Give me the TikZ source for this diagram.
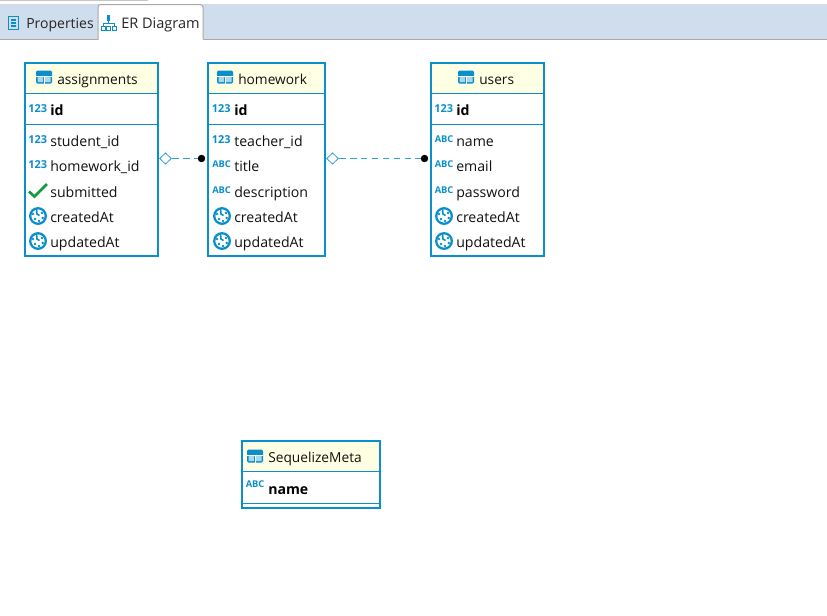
\documentclass[tikz,border=0pt]{standalone}
\usepackage{fontspec}
\setmainfont{Open Sans}
\usetikzlibrary{shapes.geometric,calc}
\definecolor{erblue}{HTML}{0A8FCB}
\definecolor{hdr}{HTML}{FFFFE3}
\definecolor{tabbar}{HTML}{CFDDEC}
\definecolor{tabline}{HTML}{A9A9A9}
\definecolor{linkblue}{HTML}{2FA3D4}
\definecolor{checkgreen}{HTML}{129B3C}
\definecolor{txt}{HTML}{111111}
\tikzset{
  x=0.75pt,y=-0.75pt,
  table/.style={draw=erblue,line width=1.6pt,anchor=north west,inner sep=0pt,outer sep=0pt},
  sep/.style={draw=erblue,line width=0.75pt},
  lbl/.style={anchor=base west,inner sep=0pt,font=\fontsize{10.6}{12}\selectfont,text=txt},
  hlbl/.style={lbl,font=\fontsize{10.3}{12}\selectfont},
  keylbl/.style={lbl,font=\fontsize{10.6}{12}\selectfont\bfseries,text=black},
  num/.style={anchor=base west,inner sep=0pt,font=\fontsize{8.2}{9}\selectfont\bfseries,text=erblue},
  abc/.style={anchor=base west,inner sep=0pt,font=\fontsize{7}{9}\selectfont\bfseries,text=erblue},
  tab/.style={anchor=base west,inner sep=0pt,font=\fontsize{10.5}{12}\selectfont,text=black!85},
  tabb/.style={tab,font=\fontsize{10.9}{12}\selectfont},
  dia/.style={diamond,draw=linkblue,fill=white,line width=0.6pt,minimum width=9pt,minimum height=8.5pt,inner sep=0pt},
  enddot/.style={circle,fill=black,inner sep=0pt,minimum size=5.6pt},
  link/.style={draw=linkblue,line width=1pt,dash pattern=on 5pt off 3.2pt},
  tableicon/.pic={
    \fill[erblue,rounded corners=1pt] (-8,-6.5) rectangle (8,6.5);
    \fill[white!65!erblue] (-6.5,0) rectangle (-0.8,5) (0.8,0) rectangle (6.5,5);
    \draw[white,line width=0.7pt] (-8,-0.6) -- (8,-0.6) (0,-0.6) -- (0,6.5);
  },
  clockicon/.pic={
    \draw[erblue,line width=1.7pt,fill=white] (0,0) circle (7.8);
    \fill[erblue] (-5,-2) circle (1.4) (-3,3) circle (1.4) (1,5) circle (1.4) (4.8,2) circle (1.4) (4,-3) circle (1.4);
    \draw[erblue,line width=1.2pt] (-1.5,-7) -- (-1,-2) -- (1.5,-0.5);
  },
  checkicon/.pic={
    \draw[checkgreen,line width=2pt] (-9,0.5) -- (-3.5,5.5) -- (9,-7);
  }
}
\begin{document}
\begin{tikzpicture}
\useasboundingbox (0,0) rectangle (827,615);
\fill[white] (0,0) rectangle (827,615);
% tab bar
\fill[tabbar] (0,4) rectangle (827,39.5);
\fill[gray!45] (0,0) rectangle (148,1);
\draw[tabline,line width=0.75pt] (0,39.5) -- (98,39.5) (203,39.5) -- (827,39.5);
\draw[tabline,fill=white,line width=0.75pt,rounded corners=2pt] (98,40) -- (98,4.5) -- (203,4.5) -- (203,40);
\fill[white] (98.5,39) rectangle (202.5,41);
% tab icons
\draw[erblue,line width=0.9pt] (8.5,16.5) rectangle (18.5,29.5);
\draw[erblue,line width=0.9pt] (11,20) -- (16,20) (11,23) -- (16,23) (11,26) -- (16,26);
\fill[erblue] (106.5,14.5) rectangle (110,21);
\draw[erblue,line width=0.7pt] (108.3,21) -- (108.3,23.5) (103,26) -- (103,23.5) -- (114,23.5) -- (114,26);
\draw[erblue,line width=0.7pt] (101.5,26) rectangle (105,30) (106.5,26) rectangle (110,30) (112,26) rectangle (116,30);
\node[tab] (tabprops) at (26,28) {Properties};
\node[tabb] (taber) at (121,28) {ER Diagram};

% ---- assignments
\node[table,fill=white,minimum width=100pt,minimum height=144.75pt] (assignments) at (25,63) {};
\fill[hdr] (26,64) rectangle (157,92.5);
\draw[sep] (25,93) -- (158,93) (25,124) -- (158,124);
\draw[table,fill=none] (assignments.north west) rectangle (assignments.south east);
\pic at (44,77) {tableicon};
\node[hlbl] (assignmentsT) at (57,84) {assignments};
\node[num] at (28,112) {123};
\node[keylbl] (aid) at (50,115) {id};
\node[num] at (28,143) {123};
\node[lbl] (a1) at (50,146) {student\_id};
\node[num] at (28,168) {123};
\node[lbl] (a2) at (50,171) {homework\_id};
\pic at (38,191) {checkicon};
\node[lbl] (a3) at (50,197) {submitted};
\pic at (38,216) {clockicon};
\node[lbl] (a4) at (50,222) {createdAt};
\pic at (38,241) {clockicon};
\node[lbl] (a5) at (50,247) {updatedAt};

% ---- homework
\node[table,fill=white,minimum width=87.75pt,minimum height=144.75pt] (homework) at (208,63) {};
\fill[hdr] (209,64) rectangle (324,92.5);
\draw[sep] (208,93) -- (325,93) (208,124) -- (325,124);
\draw[table,fill=none] (homework.north west) rectangle (homework.south east);
\pic at (225,77) {tableicon};
\node[hlbl] (homeworkT) at (238,84) {homework};
\node[num] at (211.5,112) {123};
\node[keylbl] (hid) at (234,115) {id};
\node[num] at (211.5,143) {123};
\node[lbl] (h1) at (234,146) {teacher\_id};
\node[abc] at (212,167.5) {ABC};
\node[lbl] (h2) at (234,171) {title};
\node[abc] at (212,193.5) {ABC};
\node[lbl] (h3) at (234,197) {description};
\pic at (222,216) {clockicon};
\node[lbl] (h4) at (234,222) {createdAt};
\pic at (222,241) {clockicon};
\node[lbl] (h5) at (234,247) {updatedAt};

% ---- users
\node[table,fill=white,minimum width=84.75pt,minimum height=144.75pt] (users) at (431,63) {};
\fill[hdr] (432,64) rectangle (543,92.5);
\draw[sep] (431,93) -- (544,93) (431,124) -- (544,124);
\draw[table,fill=none] (users.north west) rectangle (users.south east);
\pic at (466,77) {tableicon};
\node[hlbl] (usersT) at (479,84) {users};
\node[num] at (434,112) {123};
\node[keylbl] (uid) at (456,115) {id};
\node[abc] at (434.5,142.5) {ABC};
\node[lbl] (u1) at (456,146) {name};
\node[abc] at (434.5,167.5) {ABC};
\node[lbl] (u2) at (456,171) {email};
\node[abc] at (434.5,193.5) {ABC};
\node[lbl] (u3) at (456,197) {password};
\pic at (444,216) {clockicon};
\node[lbl] (u4) at (456,222) {createdAt};
\pic at (444,241) {clockicon};
\node[lbl] (u5) at (456,247) {updatedAt};

% ---- SequelizeMeta
\node[table,fill=white,minimum width=103.5pt,minimum height=50.25pt] (meta) at (242,441) {};
\fill[hdr] (243,442) rectangle (379,470.5);
\draw[sep] (242,471) -- (380,471) (242,503) -- (380,503);
\draw[table,fill=none] (meta.north west) rectangle (meta.south east);
\pic at (255,456) {tableicon};
\node[hlbl] (metaT) at (268,462.5) {SequelizeMeta};
\node[abc] at (245.5,487.5) {ABC};
\node[keylbl] (mname) at (268,494) {name};

% ---- connectors
\node[dia] (d1) at (165.5,158.5) {};
\node[enddot] (e1) at (201.5,158.5) {};
\node[dia] (d2) at (332.5,158.5) {};
\node[enddot] (e2) at (424.5,158.5) {};
\draw[link] (d1) -- (e1);
\draw[link] (d2) -- (e2);
\end{tikzpicture}
\end{document}
